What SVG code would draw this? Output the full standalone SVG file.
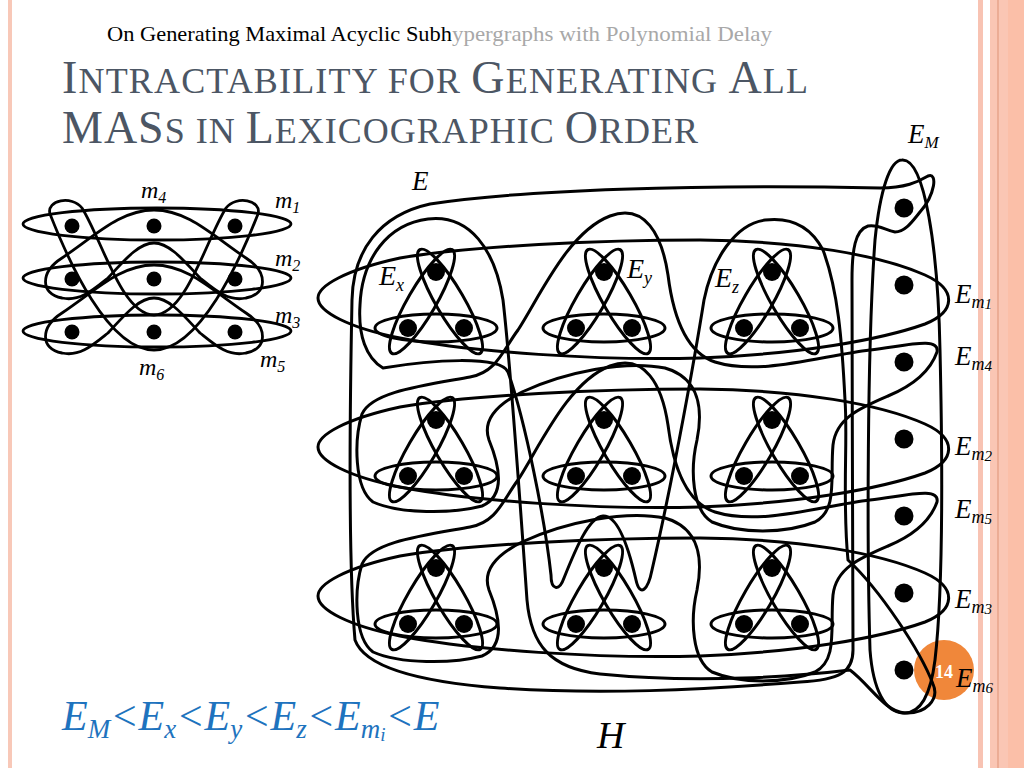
<svg xmlns="http://www.w3.org/2000/svg" width="1024" height="768" viewBox="0 0 1024 768">
<style>
.ln{fill:none;stroke:#000;stroke-width:3;stroke-linejoin:round}
.sm{fill:none;stroke:#000;stroke-width:2.8;stroke-linejoin:round}
.dot{fill:#000}
.it{font-family:"Liberation Serif","DejaVu Serif",serif;font-style:italic;fill:#000}
.tt{font-family:"Liberation Serif","DejaVu Serif",serif;fill:#4c5664}
.hd{font-family:"Liberation Serif","DejaVu Serif",serif;font-size:21px}
</style>
<defs>
<g id="gad">
<ellipse class="ln" cx="0" cy="56" rx="61" ry="14"/>
<ellipse class="ln" cx="14" cy="29.5" rx="60" ry="14" transform="rotate(59.8 14 29.5)"/>
<ellipse class="ln" cx="-14" cy="29.5" rx="60" ry="14" transform="rotate(-59.8 -14 29.5)"/>
<circle class="dot" cx="0" cy="0" r="9"/>
<circle class="dot" cx="-28" cy="56" r="9"/>
<circle class="dot" cx="28" cy="56" r="9"/>
</g>
<path id="em1" d="M318,298 C318,286 345,270 400,258 C470,246 600,240 700,240 C800,241 880,255 925,275 C958,290 955,312 925,324 C880,340 800,354 700,358 C600,361 470,352 400,338 C350,328 318,312 318,298 Z"/>
<path id="em4" d="M937,352 C930,372 912,386 888,396 C860,408 836,418 833,445 C830,478 838,510 815,522 C785,534 740,534 712,522 C692,510 690,470 697,440 C703,410 700,378 665,368 C625,360 565,372 522,392 C498,404 482,420 489,440 C498,462 508,495 482,506 C452,514 400,514 373,502 C354,488 354,440 362,414 C372,392 420,386 470,377 C497,372 503,350 518,330 C540,296 568,232 610,216 C645,203 662,235 668,275 C673,315 685,352 715,362 C760,376 820,356 870,350 C905,346 940,336 937,352 Z"/>
<path id="sm4" d="M62,298 C40,294 40,272 62,258 C95,236 120,210 154,210 C188,210 213,236 246,258 C268,272 268,294 246,298 C228,302 215,290 200,278 C185,262 170,243 154,243 C138,243 123,262 108,278 C93,290 80,302 62,298 Z"/>
</defs>
<rect width="1024" height="768" fill="#fff"/>
<g id="frame">
<rect x="8" y="0" width="4" height="768" fill="#f8c8b8"/>
<rect x="978" y="0" width="5" height="768" fill="#f8c3b3"/>
<rect x="990" y="0" width="34" height="768" fill="#fac6b4"/>
<rect x="1008" y="0" width="16" height="768" fill="#fbbfa8"/>
<line x1="998" y1="0" x2="998" y2="768" stroke="#e39c80" stroke-width="1.2"/>
</g>
<circle id="page-badge" cx="944" cy="670" r="30" fill="#f0873a"/>
<g id="header">
<text class="hd" x="107" y="41" fill="#000" textLength="345" lengthAdjust="spacingAndGlyphs">On Generating Maximal Acyclic Subh</text>
<text class="hd" x="452" y="41" fill="#a8a8a8" textLength="320" lengthAdjust="spacingAndGlyphs">ypergraphs with Polynomial Delay</text>
</g>
<g id="title">
<text class="tt" x="62" y="93" font-size="46" textLength="746" lengthAdjust="spacing">I<tspan font-size="36">NTRACTABILITY FOR </tspan>G<tspan font-size="36">ENERATING </tspan>A<tspan font-size="36">LL</tspan></text>
<text class="tt" x="62" y="143" font-size="46" textLength="636" lengthAdjust="spacing">MAS<tspan font-size="36">S IN </tspan>L<tspan font-size="36">EXICOGRAPHIC </tspan>O<tspan font-size="36">RDER</tspan></text>
</g>
<g id="small-hypergraph">
<g id="small-edges">
<ellipse class="sm" cx="157" cy="224" rx="134" ry="16"/>
<ellipse class="sm" cx="157" cy="278" rx="134" ry="16"/>
<ellipse class="sm" cx="157" cy="331" rx="134" ry="16"/>
<use href="#sm4" class="sm"/>
<use href="#sm4" class="sm" transform="translate(0,55)"/>
<path class="sm" d="M50,214 C46,200 72,195 82,208 C102,240 122,315 154,315 C186,315 206,240 226,208 C236,195 262,200 258,214 C240,260 200,350 154,350 C108,350 68,260 50,214 Z"/>
</g>
<g id="small-vertices">
<circle class="dot" cx="72" cy="226" r="7.5"/><circle class="dot" cx="154" cy="226" r="7.5"/><circle class="dot" cx="235" cy="226" r="7.5"/>
<circle class="dot" cx="72" cy="279" r="7.5"/><circle class="dot" cx="154" cy="279" r="7.5"/><circle class="dot" cx="235" cy="279" r="7.5"/>
<circle class="dot" cx="72" cy="332" r="7.5"/><circle class="dot" cx="154" cy="332" r="7.5"/><circle class="dot" cx="235" cy="332" r="7.5"/>
</g>
<g id="small-labels" class="it" font-size="24">
<text x="141" y="198">m<tspan font-size="16" dy="5">4</tspan></text>
<text x="275" y="208">m<tspan font-size="16" dy="5">1</tspan></text>
<text x="275" y="266">m<tspan font-size="16" dy="5">2</tspan></text>
<text x="275" y="323">m<tspan font-size="16" dy="5">3</tspan></text>
<text x="260" y="367">m<tspan font-size="16" dy="5">5</tspan></text>
<text x="139" y="375">m<tspan font-size="16" dy="5">6</tspan></text>
</g>
</g>
<g id="connectors">
<path id="edge-E" class="ln" d="M355,640 C348,560 350,400 352,300 C353,250 380,215 430,204 C520,190 700,184 880,188 C905,188 918,182 928,176 C938,172 935,195 920,212 C912,222 905,232 895,232 C885,230 878,224 868,226 C855,230 852,250 852,280 C852,400 853,560 853,650 C853,672 840,680 800,682 C700,690 600,695 500,688 C420,682 365,668 355,640 Z"/>
<path id="edge-EM" class="ln" d="M902,160 C925,158 938,250 940,350 C943,480 942,600 935,660 C930,700 918,714 903,713 C885,712 873,690 870,650 C867,550 867,350 875,240 C880,190 890,160 902,160 Z"/>
<use id="edge-Em1" href="#em1" class="ln"/>
<use id="edge-Em2" href="#em1" class="ln" transform="translate(0,149)"/>
<use id="edge-Em3" href="#em1" class="ln" transform="translate(0,298)"/>
<use id="edge-Em4" href="#em4" class="ln"/>
<use id="edge-Em5" href="#em4" class="ln" transform="translate(0,150)"/>
<path id="edge-Em6" class="ln" d="M383,368 C366,358 358,335 360,305 C362,258 388,224 428,219 C470,214 495,250 503,300 C510,360 520,500 527,600 C531,645 550,668 600,674 C700,684 800,676 850,670 C870,685 885,712 905,713 C925,714 940,700 933,684 C920,650 880,590 848,560 C842,500 848,440 845,400 C842,340 838,290 823,250 C810,225 790,217 765,220 C735,224 712,260 704,300 C696,350 675,470 652,570 C648,590 640,598 636,580 C628,545 617,515 603,516 C589,517 576,548 564,578 C559,592 551,590 551,575 C545,520 525,420 508,372 C500,355 430,360 383,368 Z"/>
</g>
<g id="gadget-1-1"><use href="#gad" x="436" y="272"/></g>
<g id="gadget-1-2"><use href="#gad" x="604" y="272"/></g>
<g id="gadget-1-3"><use href="#gad" x="772" y="272"/></g>
<g id="gadget-2-1"><use href="#gad" x="436" y="420"/></g>
<g id="gadget-2-2"><use href="#gad" x="604" y="420"/></g>
<g id="gadget-2-3"><use href="#gad" x="772" y="420"/></g>
<g id="gadget-3-1"><use href="#gad" x="436" y="568"/></g>
<g id="gadget-3-2"><use href="#gad" x="604" y="568"/></g>
<g id="gadget-3-3"><use href="#gad" x="772" y="568"/></g>
<g id="right-vertices">
<circle class="dot" cx="904" cy="208" r="9.5"/>
<circle class="dot" cx="904" cy="285" r="9.5"/>
<circle class="dot" cx="904" cy="362" r="9.5"/>
<circle class="dot" cx="904" cy="439" r="9.5"/>
<circle class="dot" cx="904" cy="516" r="9.5"/>
<circle class="dot" cx="904" cy="593" r="9.5"/>
<circle class="dot" cx="904" cy="670" r="9.5"/>
</g>
<text id="page-number" x="944" y="678" text-anchor="middle" font-family="Liberation Serif, serif" font-weight="bold" font-size="18" fill="#fff">14</text>
<g id="labels" class="it" font-size="27">
<text x="412" y="190">E</text>
<text x="908" y="143">E<tspan font-size="17" dy="5">M</tspan></text>
<text x="379" y="285" font-size="28">E<tspan font-size="18" dy="6">x</tspan></text>
<text x="627" y="278" font-size="28">E<tspan font-size="18" dy="6">y</tspan></text>
<text x="715" y="287" font-size="28">E<tspan font-size="18" dy="6">z</tspan></text>
<text x="955" y="303">E<tspan font-size="18" dy="5">m</tspan><tspan font-size="15" dy="1">1</tspan></text>
<text x="955" y="365">E<tspan font-size="18" dy="5">m</tspan><tspan font-size="15" dy="1">4</tspan></text>
<text x="955" y="455">E<tspan font-size="18" dy="5">m</tspan><tspan font-size="15" dy="1">2</tspan></text>
<text x="955" y="518">E<tspan font-size="18" dy="5">m</tspan><tspan font-size="15" dy="1">5</tspan></text>
<text x="955" y="608">E<tspan font-size="18" dy="5">m</tspan><tspan font-size="15" dy="1">3</tspan></text>
<text x="956" y="687">E<tspan font-size="18" dy="5">m</tspan><tspan font-size="15" dy="1">6</tspan></text>
<text x="597" y="748" font-size="38">H</text>
</g>
<text id="order" class="it" x="62" y="730" font-size="42" style="fill:#1e73be">E<tspan font-size="27" dy="8">M</tspan><tspan dy="-8">&lt;E</tspan><tspan font-size="27" dy="8">x</tspan><tspan dy="-8">&lt;E</tspan><tspan font-size="27" dy="8">y</tspan><tspan dy="-8">&lt;E</tspan><tspan font-size="27" dy="8">z</tspan><tspan dy="-8">&lt;E</tspan><tspan font-size="27" dy="8">m</tspan><tspan font-size="19" dy="3">i</tspan><tspan dy="-11">&lt;E</tspan></text>
</svg>
